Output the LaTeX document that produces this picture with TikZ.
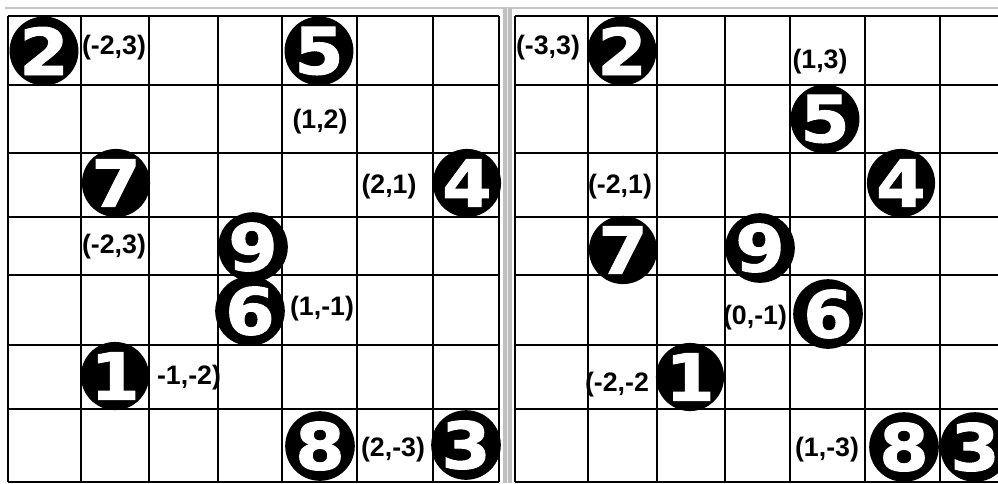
\documentclass[tikz,border=0pt]{standalone}
\usepackage{fontspec}
\setmainfont{Liberation Sans}
\newfontfamily\ballfont[FakeBold=1.5,FakeStretch=1.1]{DejaVu Sans Bold}

\begin{document}
\begin{tikzpicture}[
    x=0.025cm, y=-0.025cm,
    ball/.style={circle, fill=black, text=white, inner sep=0pt,
        minimum size=1.68cm, font=\ballfont\fontsize{46}{46}\selectfont},
    coordlabel/.style={inner sep=0pt, font=\bfseries\fontsize{19}{19}\selectfont},
    gridline/.style={line width=2.1pt},
]
\useasboundingbox (0,0) rectangle (998,483);

% === Scan frame ===
\draw[gray!45, line width=2pt] (5,8) -- (998,8);
\fill[gray!50] (503,8) rectangle (512,483);
\draw[gray!15, line width=1pt] (507.5,8) -- (507.5,483);

% === Left board ===
\foreach \x in {8,81,149,218,282,357,433,499}
    \draw[gridline] (\x,16) -- (\x,482);
\foreach \y in {16,85,153,217,275,345,409,482}
    \draw[gridline] (8,\y) -- (499,\y);

\node[ball] (l2) at (44,51) {2};
\node[ball] (l5) at (319,51) {5};
\node[ball] (l7) at (116,183) {7};
\node[ball] (l4) at (467,183) {4};
\node[ball] (l9) at (253,247) {9};
\node[ball] (l6) at (250,311) {6};
\node[ball] (l1) at (115,376) {1};
\node[ball] (l8) at (320,446) {8};
\node[ball] (l3) at (466,445) {3};

\node[coordlabel] (lp2) at (114,48) {(-2,3)};
\node[coordlabel] (lp5) at (320,122) {(1,2)};
\node[coordlabel] (lp4) at (389,187) {(2,1)};
\node[coordlabel] (lp7) at (114,247) {(-2,3)};
\node[coordlabel] (lp6) at (322,309) {(1,-1)};
\node[coordlabel] (lp1) at (189,378) {-1,-2)};
\node[coordlabel] (lp3) at (393,450) {(2,-3)};

% === Right board ===
\foreach \x in {515,588,657,725,790,865,940}
    \draw[gridline] (\x,16) -- (\x,482);
\foreach \y in {16,85,153,217,275,345,409,482}
    \draw[gridline] (515,\y) -- (998,\y);

\node[ball] (r2) at (622,51) {2};
\node[ball] (r5) at (825,119) {5};
\node[ball] (r4) at (901,183) {4};
\node[ball] (r7) at (623,250) {7};
\node[ball] (r9) at (760,248) {9};
\node[ball] (r6) at (828,314) {6};
\node[ball] (r1) at (690,377) {1};
\node[ball] (r8) at (904,447) {8};
\node[ball] (r3) at (975,447) {3};

\node[coordlabel] (rp2) at (548,48) {(-3,3)};
\node[coordlabel] (rp5) at (820,62) {(1,3)};
\node[coordlabel] (rp7) at (620,187) {(-2,1)};
\node[coordlabel] (rp6) at (755,318) {(0,-1)};
\node[coordlabel] (rp1) at (617,385) {(-2,-2};
\node[coordlabel] (rp8) at (827,450) {(1,-3)};

\end{tikzpicture}
\end{document}
